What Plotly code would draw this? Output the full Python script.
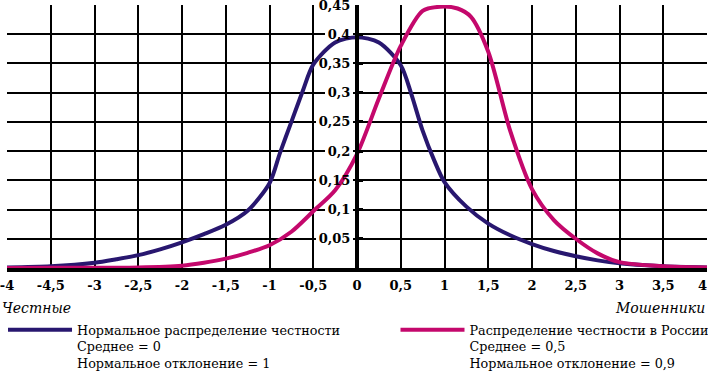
import plotly.graph_objects as go

# ---- data ----
x_honest = [-4, -3.5, -3, -2.75, -2.5, -2.25, -2, -1.75, -1.5, -1.25, -1, -0.88, -0.75, -0.62, -0.5, -0.25, 0,
            0.25, 0.5, 0.62, 0.75, 0.88, 1, 1.25, 1.5, 1.75, 2, 2.25, 2.5, 2.75, 3, 3.5, 4]
y_honest = [0.001, 0.003, 0.009, 0.015, 0.022, 0.032, 0.044, 0.058, 0.074, 0.098, 0.145, 0.197, 0.25, 0.303, 0.348, 0.386, 0.395,
            0.386, 0.347, 0.298, 0.235, 0.185, 0.147, 0.105, 0.076, 0.056, 0.041, 0.029, 0.02, 0.013, 0.008, 0.003, 0.001]

x_russia = [-4, -3.5, -3, -2.5, -2, -1.75, -1.5, -1.25, -1, -0.75, -0.5, -0.25, 0, 0.25, 0.5, 0.75, 0.95,
            1.15, 1.3, 1.5, 1.75, 2, 2.25, 2.5, 2.75, 3, 3.5, 4]
y_russia = [0.0, 0.0003, 0.0005, 0.001, 0.004, 0.009, 0.016, 0.026, 0.039, 0.062, 0.097, 0.133, 0.195, 0.29, 0.38, 0.44, 0.447,
            0.444, 0.43, 0.37, 0.235, 0.135, 0.082, 0.05, 0.025, 0.01, 0.003, 0.001]

x_tickvals = [-4, -3.5, -3, -2.5, -2, -1.5, -1, -0.5, 0, 0.5, 1, 1.5, 2, 2.5, 3, 3.5, 4]
x_ticktext = ["-4", "-4,5", "-3", "-2,5", "-2", "-1,5", "-1", "-0,5", "0", "0,5", "1", "1,5", "2", "2,5", "3", "3,5",
              "4\u00a0\u00a0"]
y_tickvals = [0.05, 0.1, 0.15, 0.2, 0.25, 0.3, 0.35, 0.4, 0.45]
y_ticktext = ["0,05", "0,1", "0,15", "0,2", "0,25", "0,3", "0,35", "0,4", "0,45"]

name_honest = "Нормальное распределение честности<br>Среднее = 0<br>Нормальное отклонение = 1"
name_russia = "Распределение честности в России<br>Среднее = 0,5<br>Нормальное отклонение = 0,9"
label_left = "Честные"
label_right = "Мошенники"

BLUE = "#28176f"
PINK = "#c4086c"
SERIF = "DejaVu Serif"
PX_PER_UNIT = 87.5  # horizontal style helper for the label backing boxes

fig = go.Figure()
fig.add_trace(go.Scatter(x=x_honest, y=y_honest, mode="lines", name=name_honest,
                         line=dict(color=BLUE, width=4, shape="spline", smoothing=0.8),
                         legend="legend"))
fig.add_trace(go.Scatter(x=x_russia, y=y_russia, mode="lines", name=name_russia,
                         line=dict(color=PINK, width=4, shape="spline", smoothing=0.8),
                         legend="legend2"))

# white backing boxes behind the y tick labels (between grid and traces)
for v, t in zip(y_tickvals, y_ticktext):
    w = sum(5 if ch == "," else 9 for ch in t) + 4
    fig.add_shape(type="rect", xref="x", yref="y", layer="between",
                  x0=-(w + 5) / PX_PER_UNIT, x1=-4 / PX_PER_UNIT, y0=v - 0.011, y1=v + 0.011,
                  fillcolor="white", line=dict(width=0))

fig.add_annotation(x=0, y=-0.152, xref="paper", yref="paper", text=label_left, showarrow=False,
                   xanchor="left", yanchor="middle", xshift=-7,
                   font=dict(family=SERIF, size=14, color="black", style="italic"))
fig.add_annotation(x=1, y=-0.152, xref="paper", yref="paper", text=label_right, showarrow=False,
                   xanchor="right", yanchor="middle",
                   font=dict(family=SERIF, size=14, color="black", style="italic"))

legend_common = dict(orientation="v", yanchor="top", xanchor="left", itemwidth=64,
                     valign="top", bgcolor="rgba(0,0,0,0)", borderwidth=0,
                     font=dict(family=SERIF, size=12.75, color="black"), tracegroupgap=0)
fig.update_layout(
    width=708, height=371,
    margin=dict(l=7, r=1, t=5, b=103, autoexpand=False),
    plot_bgcolor="white", paper_bgcolor="white",
    showlegend=True,
    legend=dict(x=-0.0057, y=-0.1787, **legend_common),
    legend2=dict(x=0.555, y=-0.1787, **legend_common),
    xaxis=dict(range=[-4, 4], tickvals=x_tickvals, ticktext=x_ticktext,
               showgrid=True, gridcolor="black", gridwidth=2,
               zeroline=False,
               showline=True, linecolor="black", linewidth=4,
               ticks="", ticklabelstandoff=2, ticklabeloverflow="allow",
               tickfont=dict(family=SERIF, size=13, color="black", weight="bold")),
    yaxis=dict(range=[0, 0.45], tickvals=y_tickvals, ticktext=y_ticktext,
               anchor="free", position=0.5, side="left",
               showgrid=True, gridcolor="black", gridwidth=2,
               zeroline=False, showline=True, linecolor="black", linewidth=4,
               ticks="inside", ticklen=4, tickwidth=3, tickcolor="black",
               ticklabelstandoff=2, ticklabeloverflow="allow",
               tickfont=dict(family=SERIF, size=13, color="black", weight="bold")),
)

fig.write_html("out.html", config={"displayModeBar": False},
               post_script="document.body.style.margin='0px';")
